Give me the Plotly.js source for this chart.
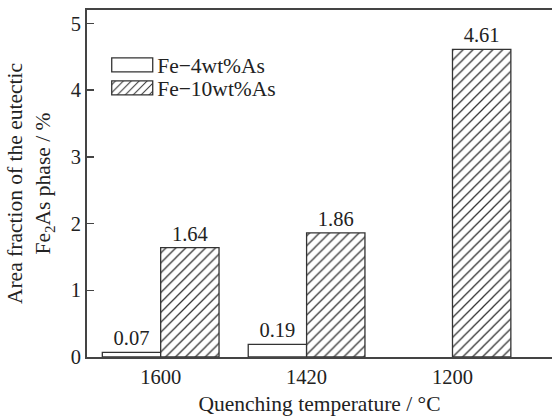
<!DOCTYPE html>
<html>
<head>
<meta charset="utf-8">
<script src="https://cdn.plot.ly/plotly-3.0.1.min.js"></script>
<style>html,body{margin:0;padding:0;background:#fff;overflow:hidden;}</style>
</head>
<body>
<div id="chart" style="width:552px;height:416px;"></div>
<script>
const categories = ["1600", "1420", "1200"];
const fe4Values = [0.07, 0.19, null];
const fe10Values = [1.64, 1.86, 4.61];
const seriesNames = ["Fe\u22124wt%As", "Fe\u221210wt%As"];
const yTickValues = [0, 1, 2, 3, 4, 5];

const FONT = "Liberation Serif, Times New Roman, serif";
const INK = "#222";
const NUM = 20.5;
const TXT = 21.5;

const traces = [
  {
    type: "bar", name: seriesNames[0], x: categories, y: fe4Values,
    marker: {color: "white", line: {color: "#333", width: 1.3}},
    texttemplate: "%{y:.2f}", textposition: "outside", cliponaxis: false,
    textfont: {family: FONT, size: NUM, color: INK}
  },
  {
    type: "bar", name: seriesNames[1], x: categories, y: fe10Values,
    marker: {color: "white", line: {color: "#333", width: 1.3},
      pattern: {shape: "/", size: 7, solidity: 0.18, fgcolor: "#333", bgcolor: "white", fillmode: "replace"}},
    texttemplate: "%{y:.2f}", textposition: "outside", cliponaxis: false,
    textfont: {family: FONT, size: NUM, color: INK}
  }
];

const layout = {
  width: 552, height: 416,
  margin: {l: 87, r: 0, t: 10, b: 59},
  paper_bgcolor: "white", plot_bgcolor: "white",
  font: {family: FONT, size: NUM, color: INK},
  barmode: "group", bargap: 0.2, bargroupgap: 0,
  showlegend: true,
  legend: {x: 0.0435, y: 0.9006, xanchor: "left", yanchor: "top", bgcolor: "rgba(0,0,0,0)",
    font: {family: FONT, size: TXT, color: INK}, itemwidth: 40, tracegroupgap: 0},
  xaxis: {
    type: "category", range: [-0.505, 2.682],
    showline: true, linecolor: "#444", linewidth: 2, mirror: true,
    ticks: "", showgrid: false, zeroline: false,
    tickfont: {family: FONT, size: NUM, color: INK},
    title: {text: "Quenching temperature / \u00b0C", font: {family: FONT, size: TXT, color: INK}, standoff: 12}
  },
  yaxis: {
    range: [0, 5.2], tickvals: yTickValues,
    showline: true, linecolor: "#444", linewidth: 2, mirror: false,
    ticks: "inside", ticklen: 7, tickwidth: 1.5, tickcolor: "#444",
    showgrid: false, zeroline: false,
    tickfont: {family: FONT, size: NUM, color: INK},
    title: {text: "Area fraction of the eutectic<br>Fe<sub>2</sub>As phase / %", font: {family: FONT, size: TXT, color: INK}, standoff: 14}
  }
};

Plotly.newPlot("chart", traces, layout, {displayModeBar: false, staticPlot: true}).then(function (gd) {
  // widen the legend swatches to look like the reference's rectangles
  gd.querySelectorAll(".legend .legendpoints path").forEach(function (p) {
    p.setAttribute("d", "M20.5,7H-20.5V-7H20.5Z");
  });
  // tighten the legend row spacing to match the reference
  const items = gd.querySelectorAll(".legend .traces");
  if (items.length > 1) {
    const re = /translate\(\s*([-\d.]+)[ ,]+([-\d.]+)\s*\)/;
    const m0 = (items[0].getAttribute("transform") || "").match(re);
    if (m0) {
      const y0 = parseFloat(m0[2]);
      items.forEach(function (it, i) {
        const m = (it.getAttribute("transform") || "").match(re);
        if (m) it.setAttribute("transform", "translate(" + m[1] + "," + (y0 + i * 23) + ")");
      });
    }
  }
});
</script>
</body>
</html>
